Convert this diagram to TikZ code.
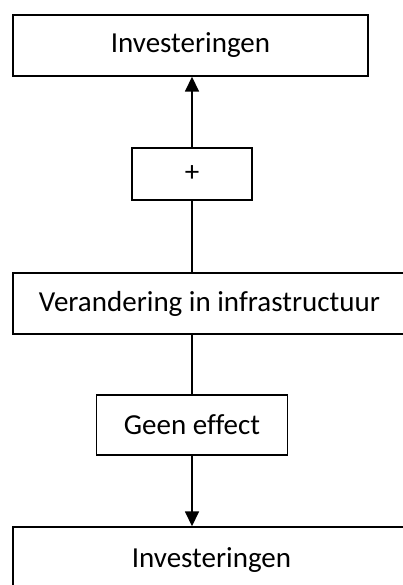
\documentclass[tikz,border=0pt]{standalone}
\usepackage{fontspec}
\setmainfont[Ligatures=NoCommon]{Carlito}
\usetikzlibrary{arrows.meta}
\begin{document}
\begin{tikzpicture}[x=1pt,y=-1pt,
  box/.style={draw=black, line width=1.4pt, inner sep=0pt, font=\fontsize{29}{34}\selectfont},
  conn/.style={line width=1.6pt},
  arr/.style={conn, -{Triangle[width=14pt,length=15pt]}}]
\useasboundingbox (0,0) rectangle (403,585);
\node[box, minimum width=355pt, minimum height=61pt] (top) at (190.5,45.5) {Investeringen};
\node[box, minimum width=120pt, minimum height=52pt] (plus) at (192,174) {+};
\node[box, minimum width=393pt, minimum height=61pt] (ver) at (209.5,303.5) {Verandering in infrastructuur};
\node[box, minimum width=191pt, minimum height=60pt] (geen) at (192,425) {Geen effect\hspace{12pt}};
\node[box, minimum width=397pt, minimum height=66pt] (bot) at (211.5,560) {Investeringen};
\draw[conn] (plus.south) -- (plus.south |- ver.north);
\draw[arr] (plus.north) -- (plus.north |- top.south);
\draw[conn] (geen.north |- ver.south) -- (geen.north);
\draw[arr] (geen.south) -- (geen.south |- bot.north);
\end{tikzpicture}
\end{document}
